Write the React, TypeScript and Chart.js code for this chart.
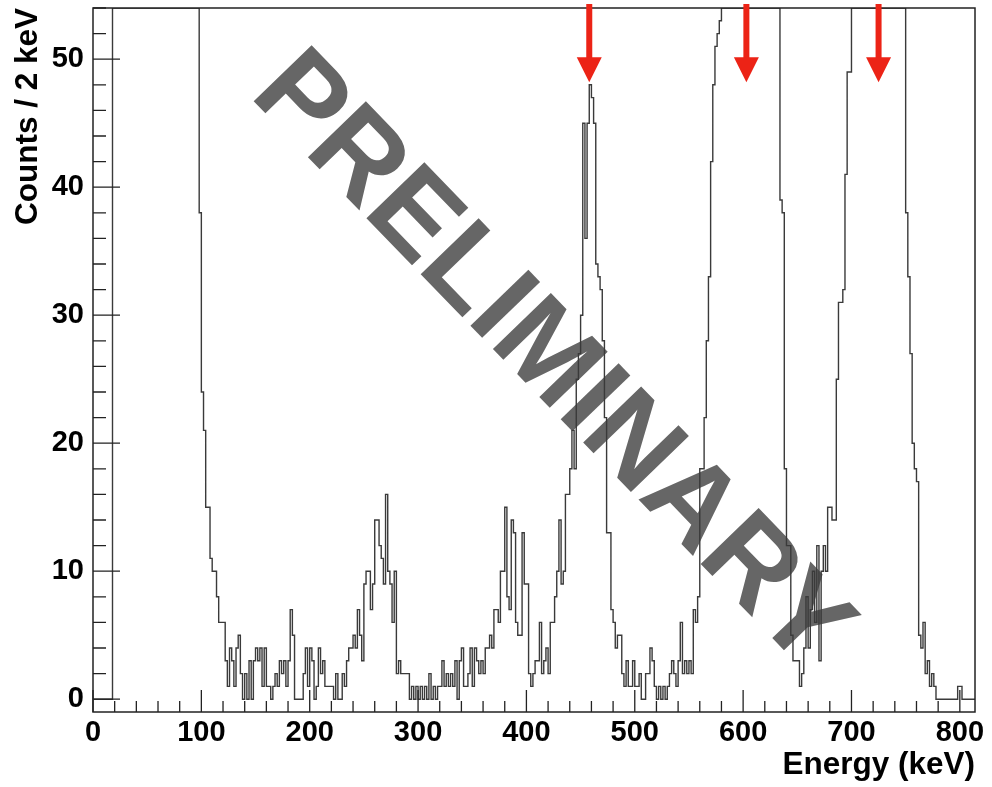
import { useEffect, useRef } from 'react';
import { Chart, registerables } from 'chart.js';

Chart.register(...registerables);

const FONT = '"Liberation Sans", Arial, Helvetica, sans-serif';

// ---- data ----
const BIN_WIDTH_KEV = 2;
const X_RANGE = [0, 814];
const Y_RANGE = [-1, 54];
const xTickValues = [0, 100, 200, 300, 400, 500, 600, 700, 800];
const yTickValues = [0, 10, 20, 30, 40, 50];
const X_MINOR_STEP = 20;
const Y_MINOR_STEP = 2;
const xTitle = 'Energy (keV)';
const yTitle = 'Counts / 2 keV';
const watermarkText = 'PRELIMINARY';
const arrowEnergiesKeV = [458, 603, 725];
const ARROW_TIP_COUNTS = 48.2;

// counts per 2 keV bin, starting at 0 keV (values above 54 run off the top of the frame)
const counts = [
  0, 0, 0, 0, 0, 0, 0, 0, 0, 90, // 0
  160, 210, 240, 260, 270, 280, 285, 290, 290, 285, // 20
  280, 275, 270, 260, 250, 240, 230, 220, 210, 200, // 40
  190, 180, 170, 160, 150, 140, 130, 120, 112, 104, // 60
  97, 90, 84, 78, 73, 68, 64, 60, 57, 38, // 80
  24, 21, 15, 15, 11, 10, 10, 8, 6, 6, // 100
  6, 3, 1, 4, 3, 1, 4, 5, 2, 0, // 120
  2, 0, 3, 0, 3, 4, 3, 4, 1, 4, // 140
  1, 1, 0, 1, 2, 1, 3, 2, 3, 1, // 160
  3, 7, 5, 0, 0, 0, 0, 2, 4, 1, // 180
  4, 3, 0, 1, 4, 2, 3, 1, 1, 1, // 200
  1, 0, 2, 0, 0, 2, 1, 3, 4, 4, // 220
  5, 4, 7, 5, 3, 9, 10, 10, 7, 9, // 240
  14, 14, 12, 11, 9, 16, 10, 9, 6, 10, // 260
  2, 3, 2, 2, 2, 2, 0, 1, 0, 1, // 280
  0, 1, 0, 1, 0, 2, 0, 1, 0, 1, // 300
  1, 3, 1, 2, 1, 2, 1, 3, 0, 3, // 320
  4, 1, 1, 2, 4, 1, 4, 3, 2, 3, // 340
  2, 4, 4, 5, 4, 7, 7, 6, 10, 10, // 360
  15, 8, 7, 14, 13, 6, 5, 5, 13, 9, // 380
  9, 2, 1, 2, 3, 3, 6, 2, 3, 4, // 400
  2, 6, 6, 8, 10, 14, 9, 10, 16, 16, // 420
  18, 21, 18, 25, 27, 30, 45, 36, 45, 48, // 440
  47, 45, 34, 33, 32, 28, 22, 13, 13, 7, // 460
  6, 4, 5, 5, 2, 1, 3, 1, 1, 3, // 480
  1, 1, 2, 0, 0, 2, 2, 4, 3, 1, // 500
  0, 1, 0, 1, 0, 1, 2, 3, 2, 1, // 520
  3, 6, 2, 3, 2, 3, 2, 7, 6, 8, // 540
  18, 18, 22, 28, 33, 42, 48, 51, 52, 53, // 560
  70, 95, 130, 170, 210, 250, 280, 300, 310, 315, // 580
  315, 310, 300, 285, 265, 240, 215, 190, 165, 140, // 600
  120, 100, 85, 72, 64, 58, 56, 39, 38, 18, // 620
  12, 12, 5, 3, 3, 3, 1, 2, 4, 8, // 640
  4, 7, 10, 6, 12, 3, 10, 12, 10, 15, // 660
  15, 14, 14, 25, 31, 31, 32, 41, 49, 49, // 680
  62, 90, 130, 170, 200, 220, 235, 240, 240, 235, // 700
  225, 210, 190, 170, 150, 130, 110, 92, 78, 68, // 720
  62, 58, 57, 56, 55, 38, 33, 27, 20, 18, // 740
  17, 5, 4, 6, 2, 3, 1, 2, 1, 0, // 760
  0, 0, 0, 0, 0, 0, 0, 0, 0, 1, // 780
  1, 0, 0, 0, 0, 0, 0, // 800
];

// ---- styles ----
const LINE_COLOR = '#3a3a3a';
const FRAME_COLOR = '#222222';
const ARROW_COLOR = '#ec2316';
const WATERMARK_COLOR = '#666666';

const decorPlugin = {
  id: 'decor',
  beforeDatasetsDraw(chart: any) {
    const { ctx, chartArea: a } = chart;
    ctx.save();
    const cx = a.left + (a.right - a.left) * 0.518;
    const cy = a.top + (a.bottom - a.top) * 0.502;
    ctx.translate(cx, cy);
    ctx.rotate((46 * Math.PI) / 180);
    ctx.font = `bold 117px ${FONT}`;
    ctx.fillStyle = WATERMARK_COLOR;
    ctx.textAlign = 'center';
    ctx.textBaseline = 'middle';
    ctx.fillText(watermarkText, 0, 0);
    ctx.restore();
  },
  afterDatasetsDraw(chart: any) {
    const { ctx, chartArea: a } = chart;
    const xs = chart.scales.x;
    const ys = chart.scales.y;
    ctx.save();
    // ticks (inside the frame)
    ctx.strokeStyle = FRAME_COLOR;
    ctx.lineWidth = 1.3;
    ctx.beginPath();
    for (let v = X_RANGE[0]; v <= X_RANGE[1]; v += X_MINOR_STEP) {
      const px = xs.getPixelForValue(v);
      const len = xTickValues.includes(v) ? 22 : 11;
      ctx.moveTo(px, a.bottom);
      ctx.lineTo(px, a.bottom - len);
    }
    for (let v = 0; v <= Y_RANGE[1]; v += Y_MINOR_STEP) {
      const py = ys.getPixelForValue(v);
      const len = yTickValues.includes(v) ? 27 : 13;
      ctx.moveTo(a.left, py);
      ctx.lineTo(a.left + len, py);
    }
    ctx.stroke();
    // frame
    ctx.lineWidth = 1.5;
    ctx.strokeRect(a.left, a.top, a.right - a.left, a.bottom - a.top);
    // arrows
    ctx.fillStyle = ARROW_COLOR;
    for (const e of arrowEnergiesKeV) {
      const x = xs.getPixelForValue(e);
      const tipY = ys.getPixelForValue(ARROW_TIP_COUNTS);
      const tailY = a.top - 4;
      const headLen = 25;
      const headHalf = 12.5;
      const shaftHalf = 3;
      ctx.fillRect(x - shaftHalf, tailY, shaftHalf * 2, tipY - headLen - tailY + 1);
      ctx.beginPath();
      ctx.moveTo(x - headHalf, tipY - headLen);
      ctx.lineTo(x + headHalf, tipY - headLen);
      ctx.lineTo(x, tipY);
      ctx.closePath();
      ctx.fill();
    }
    ctx.restore();
  },
};

export default function App() {
  const ref = useRef<HTMLCanvasElement>(null);

  useEffect(() => {
    const canvas = ref.current;
    if (!canvas) return;
    const yMax = Y_RANGE[1];
    const points = counts.map((c, i) => ({ x: X_RANGE[0] + i * BIN_WIDTH_KEV, y: Math.min(c, yMax) }));
    points.push({
      x: X_RANGE[0] + counts.length * BIN_WIDTH_KEV,
      y: Math.min(counts[counts.length - 1], yMax),
    });

    const tickFont = { family: FONT, size: 29, weight: 'bold' as const };
    const titleFont = { family: FONT, size: 31.5, weight: 'bold' as const };

    const chart = new Chart(canvas, {
      type: 'line',
      data: {
        datasets: [
          {
            data: points,
            stepped: 'before',
            borderColor: LINE_COLOR,
            borderWidth: 1.4,
            pointRadius: 0,
            fill: false,
            tension: 0,
          },
        ],
      },
      options: {
        responsive: false,
        animation: false,
        devicePixelRatio: 1,
        events: [],
        layout: { padding: { left: 0, right: 17, top: 8, bottom: 0 } },
        plugins: { legend: { display: false }, tooltip: { enabled: false } },
        scales: {
          x: {
            type: 'linear',
            position: 'bottom',
            min: X_RANGE[0],
            max: X_RANGE[1],
            grid: { display: false, drawTicks: false },
            border: { display: false },
            ticks: {
              font: tickFont,
              color: '#000',
              padding: 4,
              maxRotation: 0,
              minRotation: 0,
              autoSkip: false,
              includeBounds: false,
            },
            afterBuildTicks: (s: any) => {
              s.ticks = xTickValues.map((v) => ({ value: v }));
            },
            afterFit: (s: any) => {
              s.height = 75;
              s.paddingLeft = 0;
              s.paddingRight = 0;
            },
            title: {
              display: true,
              text: xTitle,
              align: 'end',
              color: '#000',
              font: titleFont,
              padding: { top: 0, bottom: 3 },
            },
          },
          y: {
            type: 'linear',
            position: 'left',
            min: Y_RANGE[0],
            max: Y_RANGE[1],
            grid: { display: false, drawTicks: false },
            border: { display: false },
            ticks: {
              font: tickFont,
              color: '#000',
              padding: 9,
              includeBounds: false,
            },
            afterBuildTicks: (s: any) => {
              s.ticks = yTickValues.map((v) => ({ value: v }));
            },
            afterFit: (s: any) => {
              s.width = 93;
              s.paddingTop = 0;
              s.paddingBottom = 0;
            },
            title: {
              display: true,
              text: yTitle,
              align: 'end',
              color: '#000',
              font: titleFont,
              padding: { top: 9, bottom: 0 },
            },
          },
        },
      },
      plugins: [decorPlugin],
    } as any);

    return () => chart.destroy();
  }, []);

  return (
    <div style={{ position: 'absolute', left: 0, top: 0, width: 992, height: 787, background: '#fff' }}>
      <canvas ref={ref} width={992} height={787} style={{ display: 'block' }} />
    </div>
  );
}
